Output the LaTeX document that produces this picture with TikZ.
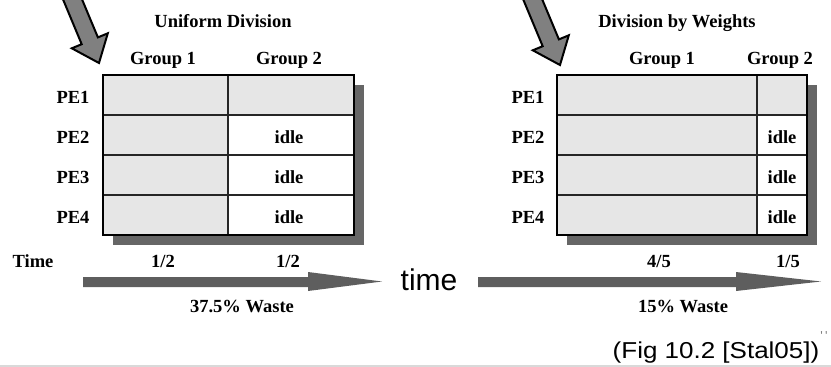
\documentclass[tikz,border=0pt]{standalone}
\usepackage{fontspec}
\setmainfont{Liberation Serif}
\newfontfamily\sansf{Liberation Sans}
\usepackage{tikz}
\usetikzlibrary{positioning,
				calc}

\definecolor{cellgray}{HTML}{E6E6E6}
\definecolor{shadowgray}{HTML}{666666}
\definecolor{pointgray}{HTML}{808080}
\definecolor{timegray}{HTML}{5E5E5E}

\tikzset{
	lbl/.style={font=\bfseries\fontsize{18.5}{22}\selectfont, anchor=base, inner sep=0pt},
	busy/.style={fill=cellgray},
	freecell/.style={fill=white},
	grid/.style={line width=1.2pt, black!85},
	frame/.style={line width=2pt, black},
	pointer/.style={fill=pointgray, draw=black, line width=2pt, line join=miter},
	timearrow/.style={fill=timegray}
}

\begin{document}
\begin{tikzpicture}[x=1pt,y=-1pt]
		\useasboundingbox (0,0) rectangle (831,367);

		% pointers at the top
		\begin{scope}
		\clip (0,0) rectangle (831,367);
		\foreach \dx/\dy in {0/0, 461/2}{
			\path[pointer, shift={(\dx,\dy)}] (74.8,-18) -- (97.9,37.4) -- (107.8,33.3) -- (99,63)
				-- (71.8,48.3) -- (81.7,44.2) -- (58.6,-11.2) -- cycle;
		}
		\end{scope}

		% uniform division
		\fill[shadowgray] (113,85) rectangle (364,245);
		\foreach \r in {0,...,3}
			\path[busy] (103,{75+40*\r}) rectangle (228,{115+40*\r});
		\path[busy] (228,75) rectangle (354,115);
		\path[freecell] (228,115) rectangle (354,235);
		\foreach \r in {1,2,3}
			\draw[grid] (103,{75+40*\r}) -- (354,{75+40*\r});
		\draw[grid] (228,75) -- (228,235);
		\draw[frame] (103,75) rectangle (354,235);

		\node[lbl] (uniTitle) at (223,27.3) {Uniform Division};
		\node[lbl] (uniG1) at (163,64) {Group 1};
		\node[lbl] (uniG2) at (289,64) {Group 2};
		\node[lbl] (uniPE1) at (73,103) {PE1};
		\node[lbl] (uniPE2) at (73,143) {PE2};
		\node[lbl] (uniPE3) at (73,183) {PE3};
		\node[lbl] (uniPE4) at (73,223) {PE4};
		\node[lbl] (uniIdle2) at (289,143.5) {idle};
		\node[lbl] (uniIdle3) at (289,183.5) {idle};
		\node[lbl] (uniIdle4) at (289,223.5) {idle};

		% division by weights
		\fill[shadowgray] (567,85) rectangle (817,245);
		\foreach \r in {0,...,3}
			\path[busy] (557,{75+40*\r}) rectangle (757,{115+40*\r});
		\path[busy] (757,75) rectangle (807,115);
		\path[freecell] (757,115) rectangle (807,235);
		\foreach \r in {1,2,3}
			\draw[grid] (557,{75+40*\r}) -- (807,{75+40*\r});
		\draw[grid] (757,75) -- (757,235);
		\draw[frame] (557,75) rectangle (807,235);

		\node[lbl] (wTitle) at (677,27.3) {Division by Weights};
		\node[lbl] (wG1) at (662,64) {Group 1};
		\node[lbl] (wG2) at (780,64) {Group 2};
		\node[lbl] (wPE1) at (528,103) {PE1};
		\node[lbl] (wPE2) at (528,143) {PE2};
		\node[lbl] (wPE3) at (528,183) {PE3};
		\node[lbl] (wPE4) at (528,223) {PE4};
		\node[lbl] (wIdle2) at (782,143.5) {idle};
		\node[lbl] (wIdle3) at (782,183.5) {idle};
		\node[lbl] (wIdle4) at (782,223.5) {idle};

		% time axis
		\node[lbl] (timeLbl) at (33,267) {Time};
		\node[lbl] (uniT1) at (163,267) {1/2};
		\node[lbl] (uniT2) at (288,267) {1/2};
		\node[lbl] (wT1) at (659,267) {4/5};
		\node[lbl] (wT2) at (788,267) {1/5};

		\fill[timearrow] (83,277) -- (308,277) -- (308,272) -- (382,281.5) -- (308,291) -- (308,287) -- (83,287) -- cycle;
		\fill[timearrow] (478,277) -- (736,277) -- (736,272) -- (821,281.5) -- (736,291) -- (736,287) -- (478,287) -- cycle;

		\node[lbl] (uniWaste) at (242,312) {37.5\% Waste};
		\node[lbl] (wWaste) at (683,312) {15\% Waste};

		\node[anchor=base, inner sep=0pt, font=\sansf\fontsize{30}{34}\selectfont] (timeWord) at (429,290) {time};
		\node[anchor=base, inner sep=0pt, font=\sansf\fontsize{23}{27}\selectfont] (figRef) at (716,358) {\scalebox{1.13}[1]{(Fig 10.2 [Stal05])}};
		\node[anchor=base, inner sep=0pt, font=\sansf\fontsize{13}{14}\selectfont, black!50] (ticks) at (824,340) {'\,'};

		\draw[line width=2pt, black!15] (0,365.5) -- (831,365.5);
  \end{tikzpicture}
\end{document}
